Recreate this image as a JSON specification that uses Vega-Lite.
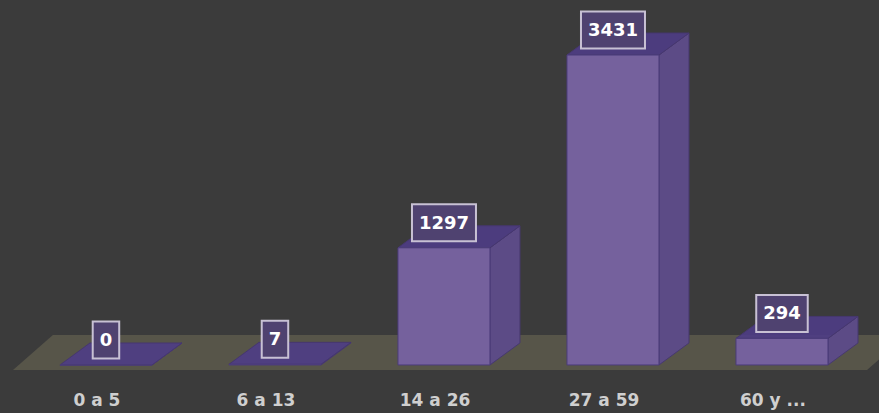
{
  "$schema": "https://vega.github.io/schema/vega-lite/v6.json",
  "width": 879,
  "height": 375,
  "autosize": {"type": "none"},
  "padding": {"left": 0, "right": 0, "top": 0, "bottom": 38},
  "background": "#3b3b3b",
  "config": {"view": {"stroke": null}},
  "data": {
    "values": [
      {"grupo": "0 a 5", "personas": 0},
      {"grupo": "6 a 13", "personas": 7},
      {"grupo": "14 a 26", "personas": 1297},
      {"grupo": "27 a 59", "personas": 3431},
      {"grupo": "60 y ...", "personas": 294}
    ]
  },
  "transform": [
    {"window": [{"op": "row_number", "as": "rn"}]},
    {"calculate": "datum.rn - 1", "as": "i"}
  ],
  "layer": [
    {
      "transform": [
        {"aggregate": [{"op": "min", "field": "i", "as": "i0"}, {"op": "max", "field": "i", "as": "i1"}]},
        {"calculate": "[0, 1]", "as": "c"},
        {"flatten": ["c"]},
        {"calculate": "datum.c == 0 ? -55 : 332", "as": "fy"},
        {"calculate": "datum.i0 - 0.55 + datum.c * 0.236", "as": "fx"},
        {"calculate": "datum.i1 + 0.503 + datum.c * 0.236", "as": "fx2"}
      ],
      "mark": {"type": "area", "orient": "horizontal", "color": "#575549", "clip": true},
      "encoding": {
        "y": {"field": "fy", "type": "quantitative", "scale": {"domain": [-111, 4040], "nice": false, "zero": false, "padding": 0}, "axis": null},
        "x": {"field": "fx", "type": "quantitative", "scale": {"domain": [-0.627, 4.574], "nice": false, "zero": false, "padding": 0}, "axis": null},
        "x2": {"field": "fx2"}
      }
    },
    {
      "transform": [
        {"calculate": "[0, 1]", "as": "c"},
        {"flatten": ["c"]},
        {"calculate": "datum.i + 0.2722 + datum.c * 0.1775", "as": "sx"},
        {"calculate": "datum.personas + datum.c * 243.5", "as": "sy"},
        {"calculate": "datum.c * 243.5", "as": "sy2"}
      ],
      "mark": {"type": "area", "orient": "vertical", "fill": "#5c4b86", "stroke": "#47396f", "strokeWidth": 1},
      "encoding": {
        "x": {"field": "sx", "type": "quantitative", "scale": {"domain": [-0.627, 4.574], "nice": false, "zero": false, "padding": 0}, "axis": null},
        "y": {"field": "sy", "type": "quantitative", "scale": {"domain": [-111, 4040], "nice": false, "zero": false, "padding": 0}, "axis": null},
        "y2": {"field": "sy2"},
        "detail": {"field": "grupo"}
      }
    },
    {
      "transform": [
        {"calculate": "[0, 1]", "as": "c"},
        {"flatten": ["c"]},
        {"calculate": "datum.i - 0.2722 + datum.c * 0.1775", "as": "tx"},
        {"calculate": "datum.i + 0.2722 + datum.c * 0.1775", "as": "tx2"},
        {"calculate": "datum.personas + datum.c * 243.5", "as": "ty"}
      ],
      "mark": {"type": "area", "orient": "horizontal", "fill": "#4f3d86", "fillOpacity": 0.9, "stroke": "#46376f", "strokeWidth": 1},
      "encoding": {
        "y": {"field": "ty", "type": "quantitative", "scale": {"domain": [-111, 4040], "nice": false, "zero": false, "padding": 0}, "axis": null},
        "x": {"field": "tx", "type": "quantitative", "scale": {"domain": [-0.627, 4.574], "nice": false, "zero": false, "padding": 0}, "axis": null},
        "x2": {"field": "tx2"},
        "detail": {"field": "grupo"}
      }
    },
    {
      "mark": {"type": "bar", "size": 92, "fill": "#75619d", "stroke": "#4b3c7a", "strokeWidth": 1},
      "encoding": {
        "x": {"field": "i", "type": "quantitative", "scale": {"domain": [-0.627, 4.574], "nice": false, "zero": false, "padding": 0}, "axis": null},
        "y": {"field": "personas", "type": "quantitative", "scale": {"domain": [-111, 4040], "nice": false, "zero": false, "padding": 0}, "axis": null},
        "y2": {"datum": 0}
      }
    },
    {
      "transform": [
        {"calculate": "14 + 12.5 * length(toString(datum.personas))", "as": "bw"}
      ],
      "mark": {"type": "bar", "fill": "#4f4270", "stroke": "#c8c1d4", "strokeWidth": 2, "yOffset": -6.5, "y2Offset": -43.5},
      "encoding": {
        "x": {"field": "i", "type": "quantitative", "scale": {"domain": [-0.627, 4.574], "nice": false, "zero": false, "padding": 0}, "axis": null},
        "y": {"field": "personas", "type": "quantitative", "scale": {"domain": [-111, 4040], "nice": false, "zero": false, "padding": 0}, "axis": null},
        "y2": {"field": "personas"},
        "size": {"field": "bw", "type": "quantitative", "scale": null, "legend": null}
      }
    },
    {
      "mark": {"type": "text", "font": "DejaVu Sans", "fontWeight": "bold", "fontSize": 18, "color": "#ffffff", "baseline": "middle", "dy": -24},
      "encoding": {
        "x": {"field": "i", "type": "quantitative", "scale": {"domain": [-0.627, 4.574], "nice": false, "zero": false, "padding": 0}, "axis": null},
        "y": {"field": "personas", "type": "quantitative", "scale": {"domain": [-111, 4040], "nice": false, "zero": false, "padding": 0}, "axis": null},
        "text": {"field": "personas", "type": "quantitative"}
      }
    },
    {
      "mark": {"type": "text", "font": "DejaVu Sans", "fontWeight": "bold", "fontSize": 17, "color": "#cfcfcf", "baseline": "middle", "dy": 36, "dx": -9},
      "encoding": {
        "x": {"field": "i", "type": "quantitative", "scale": {"domain": [-0.627, 4.574], "nice": false, "zero": false, "padding": 0}, "axis": null},
        "y": {"datum": 0, "type": "quantitative", "scale": {"domain": [-111, 4040], "nice": false, "zero": false, "padding": 0}, "axis": null},
        "text": {"field": "grupo", "type": "nominal"}
      }
    }
  ]
}
